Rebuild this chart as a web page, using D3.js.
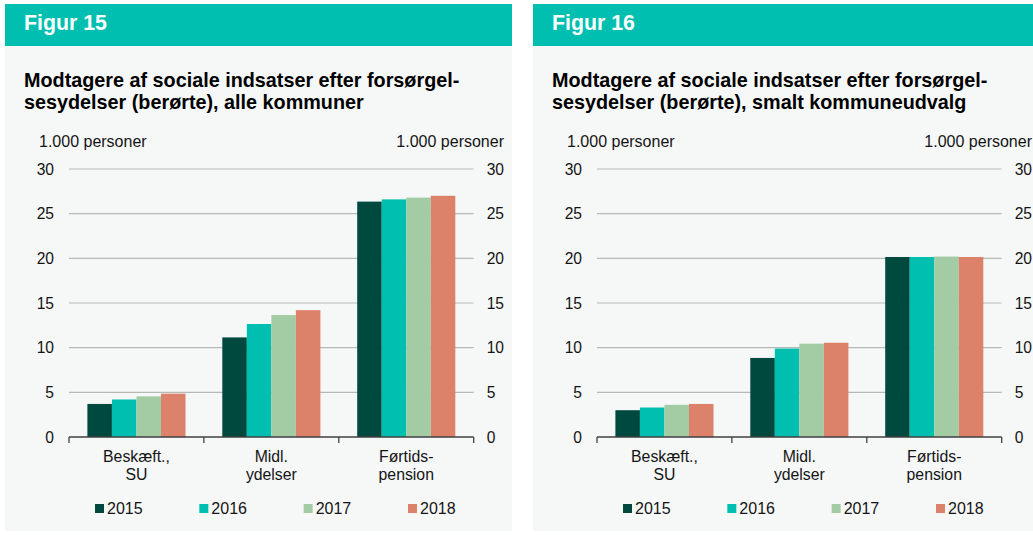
<!DOCTYPE html>
<html>
<head>
<meta charset="utf-8">
<script src="https://cdn.jsdelivr.net/npm/d3@7"></script>
<style>
  html, body { margin: 0; padding: 0; background: #ffffff; }
  svg { display: block; font-family: "Liberation Sans", Arial, sans-serif; }
</style>
</head>
<body>
<svg id="chart" width="1033" height="535"></svg>
<script>
// ---------- Data ----------
const categoryLine1 = ["Beskæft.,", "Midl.", "Førtids-"];
const categoryLine2 = ["SU", "ydelser", "pension"];
const categoryKeys = ["beskaeft", "midl", "fortid"];
const years = ["2015", "2016", "2017", "2018"];
const yTicks = [0, 5, 10, 15, 20, 25, 30];

// Figur 15 – alle kommuner (1.000 personer)
const fig15_2015 = [3.7, 11.15, 26.35];
const fig15_2016 = [4.2, 12.65, 26.6];
const fig15_2017 = [4.55, 13.65, 26.8];
const fig15_2018 = [4.85, 14.2, 27.0];

// Figur 16 – smalt kommuneudvalg (1.000 personer)
const fig16_2015 = [3.0, 8.85, 20.15];
const fig16_2016 = [3.3, 9.9, 20.15];
const fig16_2017 = [3.6, 10.45, 20.2];
const fig16_2018 = [3.7, 10.55, 20.15];

const fig15Title = ["Modtagere af sociale indsatser efter forsørgel-", "sesydelser (berørte), alle kommuner"];
const fig16Title = ["Modtagere af sociale indsatser efter forsørgel-", "sesydelser (berørte), smalt kommuneudvalg"];
const unitLabel = "1.000 personer";

const yearColors = ["#00493f", "#00bfb0", "#a3cca5", "#dc816a"];

// ---------- Drawing ----------
const svg = d3.select("#chart");
const textColor = "#141414";

function drawPanel(offsetX, figLabel, titleLines, seriesList) {
  const g = svg.append("g").attr("transform", `translate(${offsetX},0)`);

  // panel background
  g.append("rect").attr("x", 5).attr("y", 45).attr("width", 507).attr("height", 486).attr("fill", "#f6f8f8");
  // header
  g.append("rect").attr("x", 5).attr("y", 4).attr("width", 507).attr("height", 42).attr("fill", "#00bfb0");
  g.append("text").attr("x", 24).attr("y", 30).attr("fill", "#ffffff")
    .attr("font-size", 21.3).attr("font-weight", "bold").text(figLabel);

  // title
  titleLines.forEach((t, i) => {
    g.append("text").attr("x", 24).attr("y", 87 + i * 21.5).attr("fill", "#000")
      .attr("font-size", 19.8).attr("font-weight", "bold").text(t);
  });

  const left = 69, right = 473.7, top = 169, bottom = 437;
  const y = d3.scaleLinear().domain([0, 30]).range([bottom, top]);
  const x0 = d3.scaleBand().domain(categoryKeys).range([left, right]).padding(0);
  const x1 = d3.scaleBand().domain(years).range([0, x0.bandwidth()]).paddingInner(0).paddingOuter(0.75);

  // unit labels
  g.append("text").attr("x", 39).attr("y", 147).attr("font-size", 16).attr("fill", textColor).text(unitLabel);
  g.append("text").attr("x", 504).attr("y", 147).attr("text-anchor", "end").attr("font-size", 16).attr("fill", textColor).text(unitLabel);

  // gridlines
  g.append("g").selectAll("line").data(yTicks.filter(d => d > 0)).join("line")
    .attr("x1", left).attr("x2", right)
    .attr("y1", d => y(d)).attr("y2", d => y(d))
    .attr("stroke", "#b8b8b8").attr("stroke-width", 1.2);

  // y axes (labels only)
  const leftAxis = d3.axisLeft(y).tickValues(yTicks).tickSize(0).tickPadding(15);
  const la = g.append("g").attr("transform", `translate(${left},0)`).call(leftAxis);
  la.select(".domain").remove();
  la.selectAll("text").attr("font-size", 15.6).attr("fill", textColor).attr("font-family", "Liberation Sans, Arial, sans-serif");

  const rightAxis = d3.axisRight(y).tickValues(yTicks).tickSize(0).tickPadding(13);
  const ra = g.append("g").attr("transform", `translate(${right},0)`).call(rightAxis);
  ra.select(".domain").remove();
  ra.selectAll("text").attr("font-size", 15.6).attr("fill", textColor).attr("font-family", "Liberation Sans, Arial, sans-serif");

  // bars
  const groups = g.append("g").selectAll("g").data(categoryKeys).join("g")
    .attr("transform", d => `translate(${x0(d)},0)`);
  groups.selectAll("rect").data((d, ci) => years.map((yr, si) => ({ yr, si, v: seriesList[si][ci] })))
    .join("rect")
    .attr("x", d => x1(d.yr))
    .attr("width", x1.bandwidth())
    .attr("y", d => y(d.v))
    .attr("height", d => y(0) - y(d.v))
    .attr("fill", d => yearColors[d.si]);

  // x axis line and boundary ticks
  g.append("line").attr("x1", left).attr("x2", right).attr("y1", bottom).attr("y2", bottom)
    .attr("stroke", "#404040").attr("stroke-width", 1.3);
  const boundaries = categoryKeys.map(k => x0(k)).concat([right]);
  g.append("g").selectAll("line").data(boundaries).join("line")
    .attr("x1", d => d).attr("x2", d => d).attr("y1", bottom).attr("y2", bottom + 6)
    .attr("stroke", "#404040").attr("stroke-width", 1.3);

  // category labels
  categoryKeys.forEach((k, i) => {
    const cx = x0(k) + x0.bandwidth() / 2;
    g.append("text").attr("x", cx).attr("y", 462).attr("text-anchor", "middle")
      .attr("font-size", 15.8).attr("fill", textColor).text(categoryLine1[i]);
    g.append("text").attr("x", cx).attr("y", 480).attr("text-anchor", "middle")
      .attr("font-size", 15.8).attr("fill", textColor).text(categoryLine2[i]);
  });

  // legend
  const legendX = d3.scalePoint().domain(years).range([95, 408]);
  const lg = g.append("g").selectAll("g").data(years).join("g")
    .attr("transform", d => `translate(${legendX(d)},0)`);
  lg.append("rect").attr("x", 0).attr("y", 504).attr("width", 9).attr("height", 9)
    .attr("fill", (d, i) => yearColors[i]);
  lg.append("text").attr("x", 12).attr("y", 513.5).attr("font-size", 16).attr("fill", textColor).text(d => d);
}

drawPanel(0, "Figur 15", fig15Title, [fig15_2015, fig15_2016, fig15_2017, fig15_2018]);
drawPanel(528, "Figur 16", fig16Title, [fig16_2015, fig16_2016, fig16_2017, fig16_2018]);
</script>
</body>
</html>
